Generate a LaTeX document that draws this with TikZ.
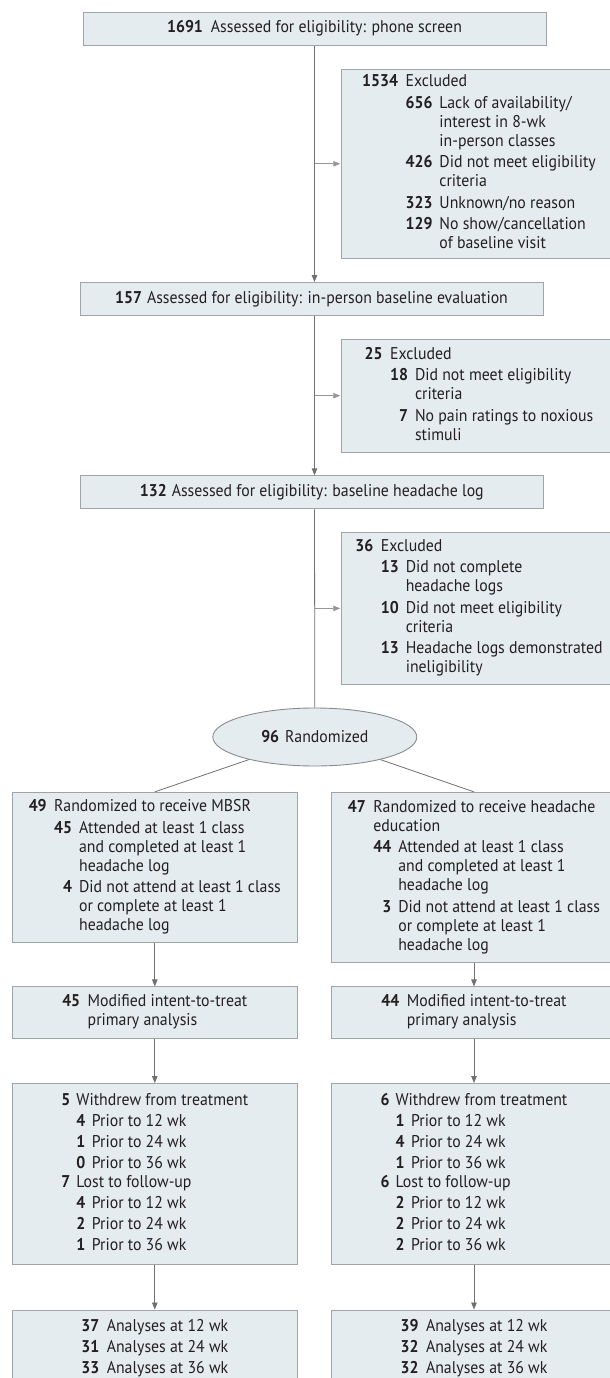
\documentclass[tikz,border=0pt]{standalone}
\usepackage{fontspec}
\setmainfont{PT Sans}[FakeStretch=0.93]
\usepackage{tikz}
\usetikzlibrary{shapes.geometric, arrows.meta, positioning, calc}
\definecolor{boxfill}{RGB}{229, 236, 240}
\definecolor{boxline}{RGB}{160, 164, 168}
\definecolor{rimgray}{RGB}{135, 140, 145}
\definecolor{linkgray}{RGB}{112, 112, 115}
\definecolor{sidegray}{RGB}{150, 150, 153}
\definecolor{ink}{RGB}{35, 31, 32}

\newcommand{\nb}[1]{\textbf{#1}}

\begin{document}
\begin{tikzpicture}[x=1pt, y=-1pt,
    every node/.style={text=ink, font=\fontsize{17}{19}\selectfont},
    box/.style={rectangle, draw=boxline, fill=boxfill, line width=0.9pt, inner sep=0pt},
    wide/.style={box, minimum width=463pt, minimum height=33pt},
    side/.style={box, minimum width=274.6pt},
    arm/.style={box, minimum width=285pt},
    arrow/.style={-{Triangle[length=7pt, width=5.5pt]}, draw=linkgray, fill=linkgray, line width=0.8pt},
    sidearrow/.style={arrow, draw=sidegray, fill=sidegray, shorten >=1pt},
    link/.style={draw=linkgray, line width=0.8pt}]

\useasboundingbox (0,0) rectangle (610,1378);
\clip (0,0) rectangle (610,1378);

% Screening column
\node[wide] (phone) at (314.5,28.7) {\nb{1691}\hspace{8pt}Assessed for eligibility: phone screen};
\node[wide] (inperson) at (311.5,299) {\nb{157}\hspace{5pt}Assessed for eligibility: in-person baseline evaluation};
\node[wide] (hlog) at (311.8,492.3) {\nb{132}\hspace{5pt}Assessed for eligibility: baseline headache log};

% Exclusions
\node[side, minimum height=189pt] (excl1) at (479,163.8) {%
  \begin{tabular}{@{}r@{\hspace{7.5pt}}l@{}}
  \nb{1534} & Excluded\\[2.5pt]
   & \begin{tabular}[t]{@{}r@{\hspace{7pt}}l@{}}
     \nb{656} & Lack of availability/\\
      & interest in 8-wk\\
      & in-person classes\\[2.5pt]
     \nb{426} & Did not meet eligibility\\
      & criteria\\[2.5pt]
     \nb{323} & Unknown/no reason\\[2.5pt]
     \nb{129} & No show/cancellation\\
      & of baseline visit
     \end{tabular}
  \end{tabular}};

\node[side, minimum height=112.7pt] (excl2) at (479,395.7) {%
  \begin{tabular}{@{}r@{\hspace{7.5pt}}l@{}}
  \nb{25} & Excluded\\[2.5pt]
   & \begin{tabular}[t]{@{}r@{\hspace{7pt}}l@{}}
     \nb{18} & Did not meet eligibility\\
      & criteria\\[2.5pt]
     \nb{7} & No pain ratings to noxious\\
      & stimuli
     \end{tabular}
  \end{tabular}};

\node[side, minimum height=152.2pt] (excl3) at (479,608.4) {%
  \begin{tabular}{@{}r@{\hspace{7.5pt}}l@{}}
  \nb{36} & Excluded\\[2.5pt]
   & \begin{tabular}[t]{@{}r@{\hspace{7pt}}l@{}}
     \nb{13} & Did not complete\\
      & headache logs\\[2.5pt]
     \nb{10} & Did not meet eligibility\\
      & criteria\\[2.5pt]
     \nb{13} & Headache logs demonstrated\\
      & ineligibility
     \end{tabular}
  \end{tabular}};

% Randomization
\node[ellipse, draw=rimgray, fill=boxfill, line width=0.9pt,
      minimum width=204pt, minimum height=58pt] (rand) at (314.8,737)
      {\nb{96}\hspace{6pt}Randomized};

\node[arm, minimum height=150pt] (mbsr) at (154.8,867.3) {%
  \begin{tabular}{@{}r@{\hspace{7.5pt}}l@{}}
  \nb{49} & Randomized to receive MBSR\\[2.5pt]
   & \begin{tabular}[t]{@{}r@{\hspace{7pt}}l@{}}
     \nb{45} & Attended at least 1 class\\
      & and completed at least 1\\
      & headache log\\[2.5pt]
     \nb{4} & Did not attend at least 1 class\\
      & or complete at least 1\\
      & headache log
     \end{tabular}
  \end{tabular}};

\node[arm, minimum height=170.4pt] (educ) at (474,877.5) {%
  \begin{tabular}{@{}r@{\hspace{7.5pt}}l@{}}
  \nb{47} & Randomized to receive headache\\
   & education\\[2.5pt]
   & \begin{tabular}[t]{@{}r@{\hspace{7pt}}l@{}}
     \nb{44} & Attended at least 1 class\\
      & and completed at least 1\\
      & headache log\\[2.5pt]
     \nb{3} & Did not attend at least 1 class\\
      & or complete at least 1\\
      & headache log
     \end{tabular}
  \end{tabular}};

% Analysis sets
\node[arm, minimum height=51.3pt, below=43.7pt of mbsr] (mittA) {%
  \begin{tabular}{@{}r@{\hspace{7.5pt}}l@{}}
  \nb{45} & Modified intent-to-treat\\
   & primary analysis
  \end{tabular}};
\node[arm, minimum height=51.3pt, below=23.3pt of educ] (mittB) {%
  \begin{tabular}{@{}r@{\hspace{7.5pt}}l@{}}
  \nb{44} & Modified intent-to-treat\\
   & primary analysis
  \end{tabular}};

\node[arm, minimum height=181pt, below=44.4pt of mittA] (lossA) {%
  \begin{tabular}{@{}r@{\hspace{6pt}}l@{}}
  \nb{5} & Withdrew from treatment\\[2pt]
   & \begin{tabular}[t]{@{}r@{\hspace{6.5pt}}l@{}}
     \nb{4} & Prior to 12 wk\\[2pt]
     \nb{1} & Prior to 24 wk\\[2pt]
     \nb{0} & Prior to 36 wk
     \end{tabular}\\[2pt]
  \nb{7} & Lost to follow-up\\[2pt]
   & \begin{tabular}[t]{@{}r@{\hspace{6.5pt}}l@{}}
     \nb{4} & Prior to 12 wk\\[2pt]
     \nb{2} & Prior to 24 wk\\[2pt]
     \nb{1} & Prior to 36 wk
     \end{tabular}
  \end{tabular}};
\node[arm, minimum height=181pt, below=44.4pt of mittB] (lossB) {%
  \begin{tabular}{@{}r@{\hspace{6pt}}l@{}}
  \nb{6} & Withdrew from treatment\\[2pt]
   & \begin{tabular}[t]{@{}r@{\hspace{6.5pt}}l@{}}
     \nb{1} & Prior to 12 wk\\[2pt]
     \nb{4} & Prior to 24 wk\\[2pt]
     \nb{1} & Prior to 36 wk
     \end{tabular}\\[2pt]
  \nb{6} & Lost to follow-up\\[2pt]
   & \begin{tabular}[t]{@{}r@{\hspace{6.5pt}}l@{}}
     \nb{2} & Prior to 12 wk\\[2pt]
     \nb{2} & Prior to 24 wk\\[2pt]
     \nb{2} & Prior to 36 wk
     \end{tabular}
  \end{tabular}};

\node[arm, minimum height=77.8pt, below=44.6pt of lossA] (doneA) {%
  \begin{tabular}{@{}r@{\hspace{7.5pt}}l@{}}
  \nb{37} & Analyses at 12 wk\\[2pt]
  \nb{31} & Analyses at 24 wk\\[2pt]
  \nb{33} & Analyses at 36 wk
  \end{tabular}};
\node[arm, minimum height=77.8pt, below=44.6pt of lossB] (doneB) {%
  \begin{tabular}{@{}r@{\hspace{7.5pt}}l@{}}
  \nb{39} & Analyses at 12 wk\\[2pt]
  \nb{32} & Analyses at 24 wk\\[2pt]
  \nb{32} & Analyses at 36 wk
  \end{tabular}};

% Connectors
\draw[arrow] (phone.south) -- (phone.south |- inperson.north);
\draw[sidearrow] (phone.south |- excl1.west) -- (excl1.west);
\draw[arrow] (phone.south |- inperson.south) -- (phone.south |- hlog.north);
\draw[sidearrow] (phone.south |- excl2.west) -- (excl2.west);
\draw[link] (phone.south |- hlog.south) -- (rand.north);
\draw[sidearrow] (phone.south |- excl3.west) -- (excl3.west);
\draw[link] (rand) -- (mbsr.north);
\draw[link] (rand) -- (educ.north);
\draw[arrow] (mbsr.south) -- (mittA.north);
\draw[arrow] (educ.south) -- (mittB.north);
\draw[arrow] (mittA.south) -- (lossA.north);
\draw[arrow] (mittB.south) -- (lossB.north);
\draw[arrow] (lossA.south) -- (doneA.north);
\draw[arrow] (lossB.south) -- (doneB.north);

\end{tikzpicture}
\end{document}
